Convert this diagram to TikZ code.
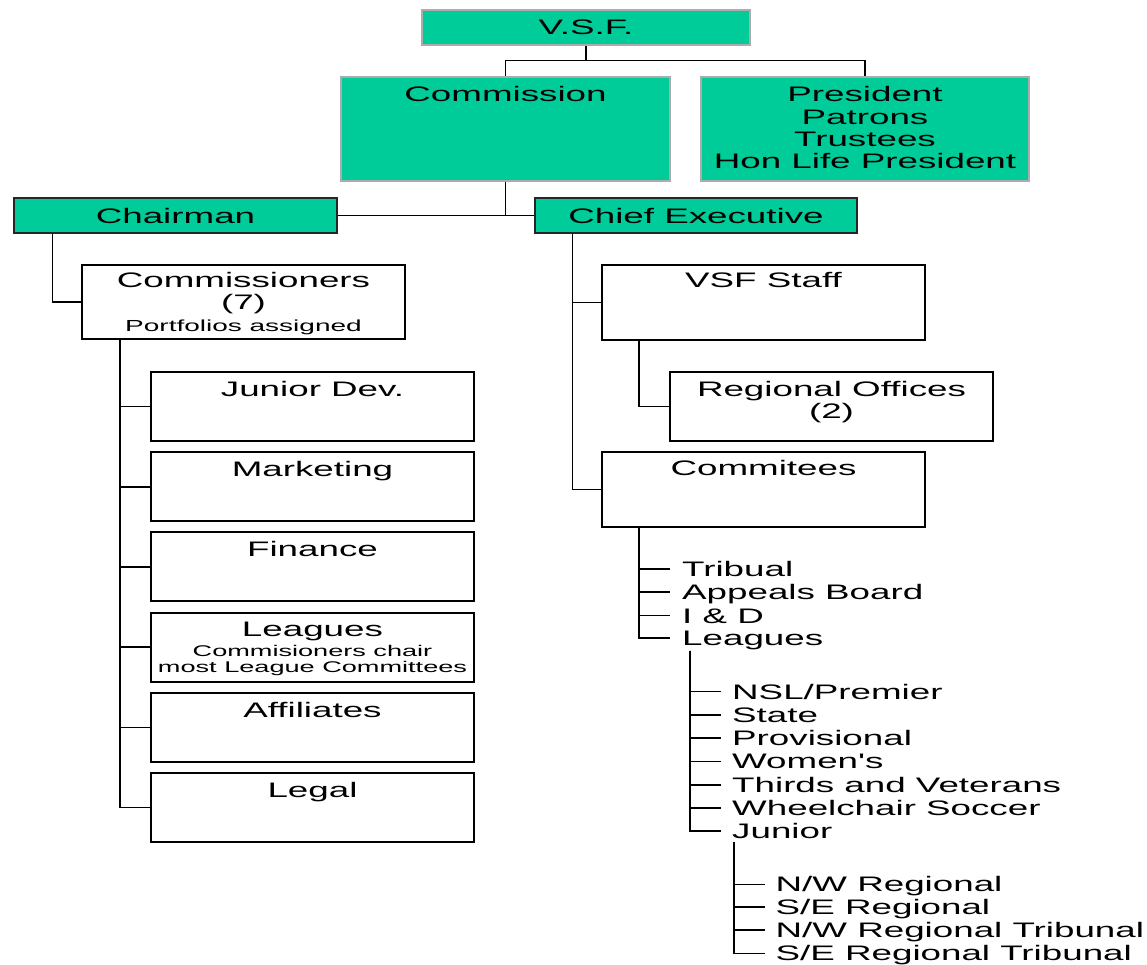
\documentclass[tikz,border=0pt]{standalone}
\usepackage{fontspec}
\newfontfamily\chartfont[FakeStretch=1.75]{Liberation Sans}
\definecolor{boxgreen}{RGB}{0,204,153}
\begin{document}
\begin{tikzpicture}[x=1pt,y=-1pt,
  every node/.style={font=\chartfont\fontsize{21}{22.3}\selectfont, text=black},
  base/.style={rectangle, inner sep=0pt},
  greenbox/.style={base, draw=gray!65, fill=boxgreen, line width=1.2pt},
  darkgreen/.style={base, draw=black!85, fill=boxgreen, line width=1.4pt},
  whitebox/.style={base, draw=black, fill=white, line width=1.9pt},
  toptext/.style={anchor=north, inner sep=0pt, align=center, yshift=-#1},
  conn/.style={draw=black, line width=1.6pt},
  item/.style={anchor=west, inner sep=0pt, text height=15pt, text depth=0pt}
]
\useasboundingbox (0,0) rectangle (1147,964);

% top level
\node[greenbox, minimum width=328pt, minimum height=35pt] (vsf) at (586,27.5) {V.S.F.};
\node[greenbox, minimum width=329pt, minimum height=104pt,
  label={[toptext=10pt]north:{Commission}}] (commission) at (505.5,129) {};
\node[greenbox, minimum width=328pt, minimum height=104pt,
  label={[toptext=10pt]north:{President\\Patrons\\Trustees\\Hon Life President}}] (pres) at (865,129) {};

\node[darkgreen, minimum width=323pt, minimum height=35pt] (chair) at (175.5,215.5) {Chairman};
\node[darkgreen, minimum width=322pt, minimum height=35pt] (chief) at (696,215.5) {Chief Executive};

% left branch
\node[whitebox, minimum width=323pt, minimum height=74pt,
  label={[toptext=8pt]north:{Commissioners\\(7)\\[-1pt]{\fontsize{16}{17}\selectfont Portfolios assigned}}}] (commrs) at (243.5,302) {};

\node[whitebox, minimum width=323pt, minimum height=69pt,
  label={[toptext=10pt]north:{Junior Dev.}}] (jd) at (312.5,406.5) {};
\node[whitebox, minimum width=323pt, minimum height=69pt,
  label={[toptext=10pt]north:{Marketing}}] (mk) at (312.5,486.7) {};
\node[whitebox, minimum width=323pt, minimum height=69pt,
  label={[toptext=10pt]north:{Finance}}] (fin) at (312.5,566.9) {};
\node[whitebox, minimum width=323pt, minimum height=69pt,
  label={[toptext=10pt]north:{Leagues\\[-2.5pt]{\fontsize{15.5}{17}\selectfont Commisioners chair}\\[-5.5pt]{\fontsize{15.5}{17}\selectfont most League Committees}}}] (lgb) at (312.5,647.1) {};
\node[whitebox, minimum width=323pt, minimum height=69pt,
  label={[toptext=10pt]north:{Affiliates}}] (aff) at (312.5,727.3) {};
\node[whitebox, minimum width=323pt, minimum height=69pt,
  label={[toptext=10pt]north:{Legal}}] (legal) at (312.5,807.5) {};

% right branch
\node[whitebox, minimum width=323pt, minimum height=75pt,
  label={[toptext=8.5pt]north:{VSF Staff}}] (vsfstaff) at (763.5,302.5) {};
\node[whitebox, minimum width=323pt, minimum height=69pt,
  label={[toptext=10pt]north:{Regional Offices\\(2)}}] (regoff) at (831.5,406.5) {};
\node[whitebox, minimum width=323pt, minimum height=75pt,
  label={[toptext=9.5pt]north:{Commitees}}] (cmt) at (763.5,489.5) {};

% committee items
\node[item] (t1) at (682,569) {Tribual};
\node[item] (t2) at (682,592) {Appeals Board};
\node[item] (t3) at (682,615.5) {I \& D};
\node[item] (t4) at (682,638) {Leagues};

% league items
\node[item] (l1) at (732,691.5) {NSL/Premier};
\node[item] (l2) at (732,714.8) {State};
\node[item] (l3) at (732,738.1) {Provisional};
\node[item] (l4) at (732,761.4) {Women's};
\node[item] (l5) at (732,784.7) {Thirds and Veterans};
\node[item] (l6) at (732,808) {Wheelchair Soccer};
\node[item] (l7) at (732,831) {Junior};

% junior items
\node[item] (j1) at (775.5,884.3) {N/W Regional};
\node[item] (j2) at (775.5,907) {S/E Regional};
\node[item] (j3) at (775.5,930) {N/W Regional Tribunal};
\node[item] (j4) at (775.5,953.3) {S/E Regional Tribunal};

% connectors
\draw[conn] (vsf.south) -- ++(0,15) coordinate (vj);
\draw[conn] (vj) -| (commission.north);
\draw[conn] (vj) -| (pres.north);
\draw[conn] (commission.south) -- (commission.south |- chair.east);
\draw[conn] (chair.east) -- (chief.west);

\draw[conn] ([xshift=39pt]chair.south west) |- (commrs.west);
\foreach \n in {jd,mk,fin,lgb,aff,legal}
  \draw[conn] ([xshift=39pt]commrs.south west) |- (\n.west);

\draw[conn] ([xshift=38pt]chief.south west) |- (vsfstaff.west);
\draw[conn] ([xshift=38pt]chief.south west) |- (cmt.west);
\draw[conn] ([xshift=38pt]vsfstaff.south west) |- (regoff.west);

\foreach \i in {1,2,3,4}
  \draw[conn] ([xshift=38pt]cmt.south west) |- ([xshift=-12pt]t\i.west);
\foreach \i in {1,...,7}
  \draw[conn] ([xshift=8pt,yshift=-5pt]t4.south west) |- ([xshift=-11pt]l\i.west);
\foreach \i in {1,2,3,4}
  \draw[conn] ([xshift=2pt,yshift=-3.5pt]l7.south west) |- ([xshift=-10.5pt]j\i.west);
\end{tikzpicture}
\end{document}
